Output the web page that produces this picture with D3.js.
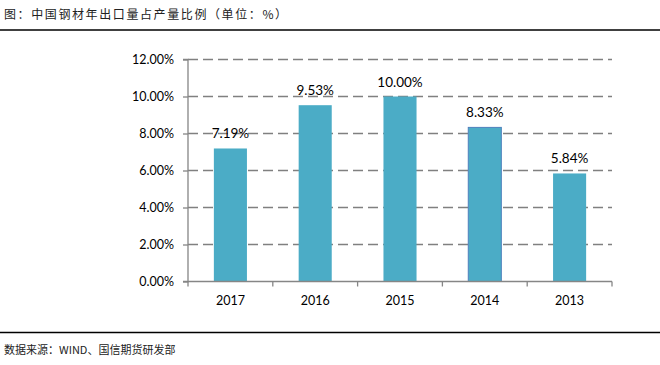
<!DOCTYPE html>
<html><head><meta charset="utf-8">
<script src="https://cdn.jsdelivr.net/npm/d3@7"></script>
<style>body{margin:0;background:#fff}</style>
</head><body>
<script>
const categories = ["2017","2016","2015","2014","2013"];
const values = [7.19, 9.53, 10.00, 8.33, 5.84];
const yTicks = [0,2,4,6,8,10,12];
const title = "图：中国钢材年出口量占产量比例（单位：%）";
const source = "数据来源：WIND、国信期货研发部";

const W = 660, H = 365;
const svg = d3.select("body").append("svg").attr("width", W).attr("height", H);
const m = {left:188, right:48, top:59.5, bottom:83.5};
const x = d3.scaleBand().domain(categories).range([m.left, W - m.right]).paddingInner(0.61).paddingOuter(0.305);
const y = d3.scaleLinear().domain([0,12]).range([H - m.bottom, m.top]);

svg.append("text").attr("x",4).attr("y",19).attr("font-family","'Noto Sans CJK SC'").attr("font-size",12)
  .attr("letter-spacing",1.6).attr("fill","#222").text(title);
svg.append("line").attr("x1",0).attr("x2",660).attr("y1",30).attr("y2",30).attr("stroke","#000").attr("stroke-width",1.5);
svg.append("line").attr("x1",0).attr("x2",660).attr("y1",332.5).attr("y2",332.5).attr("stroke","#000").attr("stroke-width",1.5);
svg.append("text").attr("x",4).attr("y",354).attr("font-family","'Noto Sans CJK SC'").attr("font-size",11)
  .attr("fill","#222").text(source);

// gridlines
svg.append("g").selectAll("line").data(yTicks.filter(d=>d>0)).join("line")
  .attr("x1", m.left).attr("x2", W - m.right)
  .attr("y1", d=>y(d)).attr("y2", d=>y(d))
  .attr("stroke","#808080").attr("stroke-width",1.5).attr("stroke-dasharray","10,5");

// bars
svg.append("g").selectAll("rect").data(values).join("rect")
  .attr("x",(d,i)=>x(categories[i])).attr("width",x.bandwidth())
  .attr("y",d=>y(d)).attr("height",d=>y(0)-y(d))
  .attr("fill","#4bacc6")
  .attr("stroke",(d,i)=>categories[i]==="2014"?"#4f81bd":"none").attr("stroke-width",1);

// labels
svg.append("g").selectAll("text").data(values).join("text")
  .attr("x",(d,i)=>x(categories[i])+x.bandwidth()/2).attr("y",d=>y(d)-10)
  .attr("text-anchor","middle").attr("font-family","Lato").attr("font-size",13.5).attr("fill","#000")
  .text(d=>d.toFixed(2)+"%");

// y axis
const ya = svg.append("g").attr("transform",`translate(${m.left},0)`)
  .call(d3.axisLeft(y).tickValues(yTicks).tickFormat(d=>d.toFixed(2)+"%").tickSize(5).tickPadding(9));
ya.selectAll("path,line").attr("stroke","#868686").attr("stroke-width",1.3);
ya.selectAll("text").attr("font-family","Lato").attr("font-size",12.5).attr("fill","#000");
ya.select(".domain").attr("d",`M-5,${y(12)}H0V${y(0)}H-5`);

// x axis
const xa = svg.append("g").attr("transform",`translate(0,${y(0)})`)
  .call(d3.axisBottom(x).tickSize(0).tickPadding(15));
xa.select(".domain").attr("stroke","#868686").attr("stroke-width",1.3).attr("d",`M${m.left},0H${W-m.right}`);
xa.selectAll("text").attr("font-family","Lato").attr("font-size",12.5).attr("fill","#000");
const step = x.step();
const bounds = d3.range(categories.length+1).map(i=>m.left + i*step);
svg.append("g").selectAll("line").data(bounds).join("line")
  .attr("x1",d=>d).attr("x2",d=>d).attr("y1",y(0)).attr("y2",y(0)+5)
  .attr("stroke","#868686").attr("stroke-width",1.3);
</script>
</body></html>
